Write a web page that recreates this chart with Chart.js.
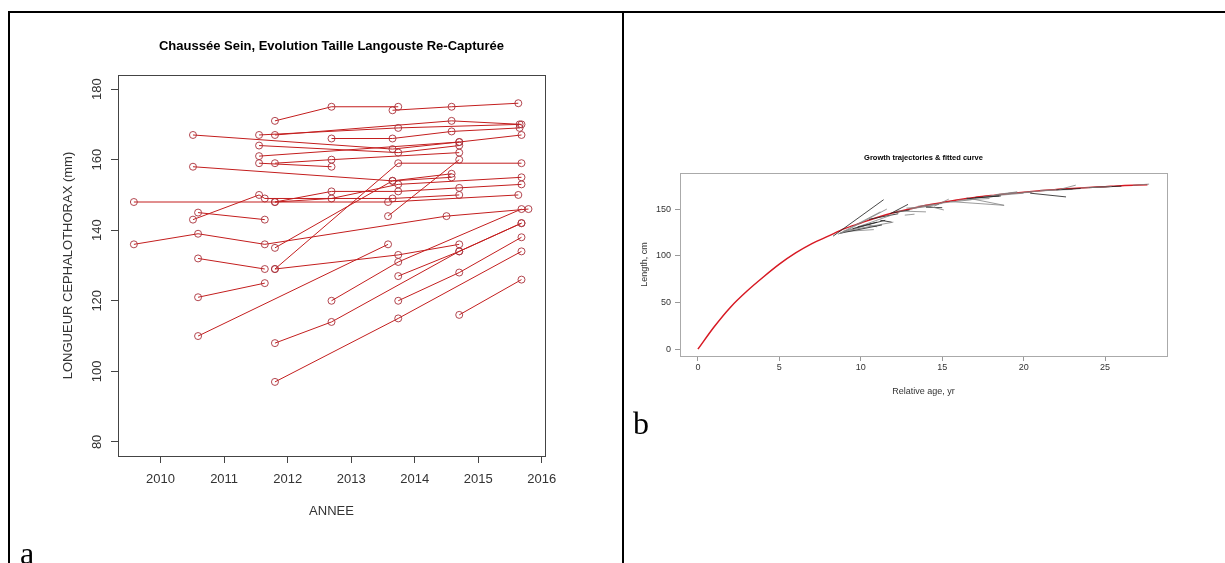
<!DOCTYPE html>
<html>
<head>
<meta charset="utf-8">
<script src="https://cdn.jsdelivr.net/npm/chart.js@4.4.1/dist/chart.umd.min.js"></script>
<style>
  body { margin: 0; width: 1225px; height: 563px; overflow: hidden; position: relative; background: #fff; }
  canvas { position: absolute; top: 0; }
  .rule { position: absolute; background: #000; z-index: 2; }
  .tag { position: absolute; font-family: "Liberation Serif", "Times New Roman", serif; font-size: 32px; line-height: 32px; color: #000; }
</style>
</head>
<body>
<canvas id="chartA" width="622" height="563" style="left:0"></canvas>
<canvas id="chartB" width="600" height="563" style="left:625px"></canvas>

<div class="rule" style="left:8px;top:11px;width:1217px;height:2px"></div>
<div class="rule" style="left:8px;top:11px;width:2px;height:552px"></div>
<div class="rule" style="left:622px;top:11px;width:2px;height:552px"></div>
<div class="tag" style="left:20px;top:537px">a</div>
<div class="tag" style="left:633px;top:407px">b</div>

<script>
// ---- panel a : recaptured lobsters, one trajectory per animal ----
const yearTicks = [2010, 2011, 2012, 2013, 2014, 2015, 2016];
const lengthTicks = [80, 100, 120, 140, 160, 180];

const trajYears = [
  [2011.80, 2012.69, 2013.74],
  [2013.65, 2014.58, 2015.63],
  [2010.51, 2013.65, 2014.70],
  [2011.55, 2013.74, 2015.65],
  [2011.80, 2014.58, 2015.68],
  [2012.69, 2013.65, 2014.58, 2015.65],
  [2011.55, 2013.74, 2014.70],
  [2011.55, 2014.70, 2015.68],
  [2011.55, 2012.69],
  [2011.80, 2012.69, 2014.70],
  [2010.51, 2013.65, 2014.58],
  [2011.80, 2013.74, 2015.68],
  [2009.58, 2013.58, 2015.63],
  [2010.51, 2011.55, 2011.64, 2013.65, 2014.70],
  [2010.59, 2011.64],
  [2011.80, 2012.69, 2013.74, 2014.70, 2015.68],
  [2011.80, 2012.69, 2013.74, 2015.68],
  [2011.80, 2013.65, 2014.58],
  [2011.80, 2013.74, 2014.70],
  [2009.58, 2010.59, 2011.64, 2014.50, 2015.79],
  [2013.58, 2014.70],
  [2010.59, 2011.64],
  [2010.59, 2011.64],
  [2010.59, 2013.58],
  [2011.80, 2012.69, 2014.70, 2015.68],
  [2012.69, 2013.74, 2015.68],
  [2013.74, 2014.70, 2015.68],
  [2013.74, 2014.70, 2015.68],
  [2011.80, 2013.74, 2015.68],
  [2014.70, 2015.68]
];
const trajLengths = [
  [171, 175, 175],
  [174, 175, 176],
  [167, 163, 165],
  [167, 169, 170],
  [167, 171, 170],
  [166, 166, 168, 169],
  [164, 162, 164],
  [161, 165, 167],
  [159, 158],
  [159, 160, 162],
  [158, 154, 156],
  [129, 159, 159],
  [148, 148, 150],
  [143, 150, 149, 149, 150],
  [145, 143],
  [148, 151, 151, 152, 153],
  [148, 149, 153, 155],
  [135, 154, 155],
  [129, 133, 136],
  [136, 139, 136, 144, 146],
  [144, 160],
  [132, 129],
  [121, 125],
  [110, 136],
  [108, 114, 134, 142],
  [120, 131, 146],
  [127, 134, 142],
  [120, 128, 138],
  [97, 115, 134],
  [116, 126]
];

// ---- panel b : growth trajectories & fitted curve ----
const ageTicks = [0, 5, 10, 15, 20, 25];
const cmTicks = [0, 50, 100, 150];

const curveAge = [0, 1, 2, 3, 4, 5, 6, 7, 8, 9, 10, 11, 12, 13, 14, 15, 16, 17, 18, 19, 20, 21, 22, 23, 24, 25, 26, 27.6];
const curveLength = [0, 24, 45, 62, 77, 91, 103, 113, 121, 129, 135, 141, 146, 150, 154, 157, 160, 162.5, 164.5, 166.5, 168, 169.5, 171, 172, 173, 174, 175, 176];

const segAges = [
  [8.3, 11.4], [8.6, 11.2], [8.8, 11.6], [8.7, 11.3], [9.0, 10.8], [9.2, 12.0],
  [9.5, 11.5], [10.4, 11.0], [10.0, 11.8], [11.8, 12.9], [12.2, 14.0], [12.7, 13.3],
  [12.0, 13.0], [14.2, 15.1], [14.5, 15.4], [14.0, 15.0], [15.5, 18.8], [16.0, 17.9],
  [16.5, 18.5], [17.5, 19.6], [18.3, 19.6], [20.4, 22.6], [20.0, 22.0], [22.2, 23.2],
  [22.0, 23.5], [26.7, 27.7], [12.8, 14.3], [9.8, 11.0], [21.0, 23.0], [19.0, 20.5],
  [11.2, 11.9], [16.5, 18.8], [8.9, 10.2], [10.5, 12.3], [13.5, 15.0], [15.0, 16.8],
  [17.0, 18.6], [23.5, 25.4], [18.0, 20.0], [24.0, 26.0], [9.4, 10.6], [13.0, 14.8]
];
const segLengths = [
  [121, 160], [123, 147], [124, 150], [124, 133], [126, 128], [127, 136],
  [129, 138], [133, 131], [132, 143], [145, 155], [148, 147], [143.5, 144.5],
  [146, 149], [153, 149], [153, 160.6], [152, 151.5], [158, 154], [159.5, 161.3],
  [161, 164], [163, 168], [165.5, 168.4], [167, 163], [168, 170.5], [171, 175.6],
  [170.5, 172], [175.5, 176.7], [151, 153], [131, 136], [170, 171], [166.5, 168],
  [138, 136], [162, 154], [126, 132], [139, 145], [153, 156], [156.5, 160],
  [162, 164], [172.5, 174], [164, 167], [173, 174.5], [128, 134], [150, 155]
];

// R-like frame: box, hand-placed tick labels and titles
const rFrame = {
  id: 'rFrame',
  afterDraw(chart, args, o) {
    const { ctx, chartArea: a, scales } = chart;
    ctx.save();
    ctx.strokeStyle = o.boxColor;
    ctx.lineWidth = 1;
    ctx.strokeRect(Math.round(a.left) + 0.5, Math.round(a.top) + 0.5,
      Math.round(a.right - a.left), Math.round(a.bottom - a.top));

    ctx.fillStyle = o.textColor;
    ctx.font = o.tickFont;
    ctx.textBaseline = 'middle';
    ctx.textAlign = 'center';
    o.xTicks.forEach(v => ctx.fillText(String(v), scales.x.getPixelForValue(v), o.xLabelY));
    o.yTicks.forEach(v => {
      const py = scales.y.getPixelForValue(v);
      if (o.rotateY) {
        ctx.save();
        ctx.translate(o.yLabelX, py);
        ctx.rotate(-Math.PI / 2);
        ctx.textAlign = 'center';
        ctx.fillText(String(v), 0, 0);
        ctx.restore();
      } else {
        ctx.textAlign = 'right';
        ctx.fillText(String(v), o.yLabelX, py);
      }
    });

    const midX = (a.left + a.right) / 2;
    const midY = (a.top + a.bottom) / 2;
    ctx.textAlign = 'center';
    ctx.font = o.axisFont;
    ctx.fillText(o.xTitle, midX, o.xTitleY);
    ctx.save();
    ctx.translate(o.yTitleX, midY);
    ctx.rotate(-Math.PI / 2);
    ctx.fillText(o.yTitle, 0, 0);
    ctx.restore();

    ctx.fillStyle = '#000';
    ctx.font = o.titleFont;
    ctx.fillText(o.title, midX, o.titleY);
    ctx.restore();
  }
};

function tickAxis(min, max, ticks, fit, color, len) {
  return {
    type: 'linear', min, max,
    afterBuildTicks: s => { s.ticks = ticks.map(v => ({ value: v })); },
    afterFit: fit,
    grid: { drawOnChartArea: false, drawTicks: true, tickLength: len, tickColor: color, lineWidth: 1 },
    border: { display: false },
    ticks: { display: false }
  };
}

// panel a
new Chart(document.getElementById('chartA'), {
  type: 'scatter',
  data: {
    datasets: trajYears.map((years, i) => ({
      data: years.map((x, j) => ({ x, y: trajLengths[i][j] })),
      showLine: true,
      borderColor: 'rgb(195,30,30)',
      borderWidth: 1,
      pointRadius: 3.5,
      pointBorderWidth: 1,
      pointBorderColor: 'rgba(170,50,60,0.9)',
      pointBackgroundColor: 'rgba(0,0,0,0)'
    }))
  },
  options: {
    responsive: false,
    animation: false,
    devicePixelRatio: 1,
    layout: { padding: { left: 0, right: 77, top: 75, bottom: 67 } },
    plugins: {
      legend: { display: false },
      tooltip: { enabled: false },
      rFrame: {
        boxColor: '#444', textColor: '#333',
        tickFont: '13px "Liberation Sans", Arial, sans-serif',
        axisFont: '13px "Liberation Sans", Arial, sans-serif',
        titleFont: 'bold 13px "Liberation Sans", Arial, sans-serif',
        xTicks: yearTicks, yTicks: lengthTicks, rotateY: true,
        xLabelY: 479, yLabelX: 97,
        xTitle: 'ANNEE', xTitleY: 511,
        yTitle: 'LONGUEUR CEPHALOTHORAX (mm)', yTitleX: 68,
        title: 'Chaussée Sein, Evolution Taille Langouste Re-Capturée', titleY: 46
      }
    },
    scales: {
      x: tickAxis(2009.33, 2016.05, yearTicks, s => { s.height = 40; }, '#444', 7),
      y: tickAxis(76, 184, lengthTicks, s => { s.width = 118; }, '#444', 7)
    }
  },
  plugins: [rFrame]
});

// panel b
const segSets = segAges.map((ages, i) => ({
  data: ages.map((x, j) => ({ x, y: segLengths[i][j] })),
  showLine: true,
  borderColor: i % 3 === 0 ? 'rgba(40,40,40,0.85)' : 'rgba(130,130,130,0.8)',
  borderWidth: 1,
  pointRadius: 0
}));

new Chart(document.getElementById('chartB'), {
  type: 'scatter',
  data: {
    datasets: [...segSets, {
      data: curveAge.map((x, i) => ({ x, y: curveLength[i] })),
      showLine: true,
      borderColor: 'rgb(215,25,35)',
      borderWidth: 1.5,
      tension: 0.4,
      cubicInterpolationMode: 'monotone',
      pointRadius: 0
    }]
  },
  options: {
    responsive: false,
    animation: false,
    devicePixelRatio: 1,
    layout: { padding: { left: 0, right: 58, top: 173, bottom: 187 } },
    plugins: {
      legend: { display: false },
      tooltip: { enabled: false },
      rFrame: {
        boxColor: '#aaa', textColor: '#333',
        tickFont: '9px "Liberation Sans", Arial, sans-serif',
        axisFont: '9px "Liberation Sans", Arial, sans-serif',
        titleFont: 'bold 7.5px "Liberation Sans", Arial, sans-serif',
        xTicks: ageTicks, yTicks: cmTicks, rotateY: false,
        xLabelY: 368, yLabelX: 46,
        xTitle: 'Relative age, yr', xTitleY: 392,
        yTitle: 'Length, cm', yTitleX: 20,
        title: 'Growth trajectories & fitted curve', titleY: 158
      }
    },
    scales: {
      x: tickAxis(-1.1, 28.8, ageTicks, s => { s.height = 20; }, '#999', 5),
      y: tickAxis(-7.3, 188.6, cmTicks, s => { s.width = 55; }, '#999', 5)
    }
  },
  plugins: [rFrame]
});
</script>
</body>
</html>
